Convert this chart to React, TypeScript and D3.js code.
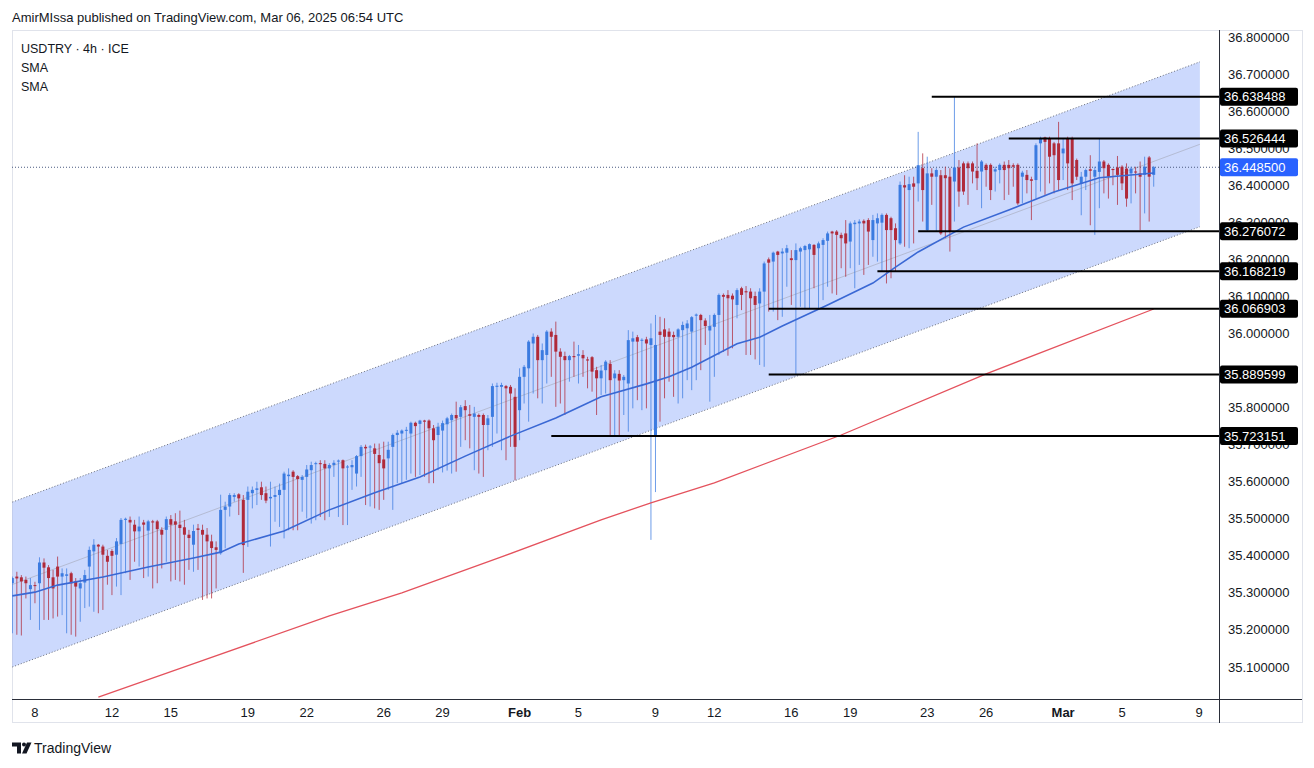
import React from "react";
import * as d3 from "d3";

// ---------- data (USDTRY 4h) ----------
const OPEN = [35.326,35.344,35.342,35.335,35.310,35.321,35.326,35.382,35.369,35.342,35.371,35.344,35.346,35.353,35.331,35.312,35.328,35.371,35.412,35.430,35.425,35.400,35.413,35.403,35.432,35.497,35.497,35.484,35.466,35.490,35.468,35.493,35.493,35.470,35.470,35.499,35.493,35.484,35.477,35.457,35.430,35.474,35.470,35.457,35.439,35.423,35.407,35.524,35.533,35.559,35.566,35.551,35.551,35.569,35.578,35.585,35.569,35.555,35.559,35.564,35.578,35.615,35.627,35.615,35.605,35.613,35.631,35.648,35.650,35.648,35.636,35.645,35.655,35.658,35.639,35.639,35.622,35.669,35.694,35.693,35.690,35.672,35.660,35.663,35.694,35.726,35.730,35.738,35.730,35.759,35.756,35.765,35.765,35.744,35.726,35.738,35.755,35.766,35.780,35.775,35.804,35.782,35.775,35.780,35.780,35.753,35.775,35.856,35.856,35.858,35.856,35.829,35.793,35.883,35.906,35.973,35.991,35.928,35.942,36.005,35.996,35.951,35.939,35.928,35.939,35.940,35.942,35.930,35.936,35.901,35.879,35.901,35.918,35.879,35.891,35.874,35.865,35.978,35.990,35.981,35.984,35.969,35.721,36.005,36.011,36.005,35.996,35.991,36.009,36.014,36.005,36.048,36.050,36.035,36.008,36.018,36.050,36.104,36.104,36.102,36.077,36.122,36.114,36.113,36.101,36.081,36.113,36.200,36.194,36.221,36.216,36.218,36.203,36.198,36.221,36.225,36.227,36.239,36.230,36.239,36.250,36.275,36.275,36.266,36.270,36.248,36.295,36.297,36.304,36.306,36.252,36.297,36.299,36.320,36.311,36.284,36.243,36.400,36.387,36.405,36.405,36.446,36.279,36.432,36.423,36.427,36.427,36.423,36.410,36.448,36.459,36.459,36.459,36.439,36.437,36.455,36.455,36.437,36.441,36.455,36.455,36.454,36.455,36.423,36.428,36.416,36.414,36.513,36.529,36.526,36.513,36.513,36.486,36.526,36.526,36.468,36.405,36.423,36.443,36.423,36.436,36.464,36.455,36.444,36.448,36.450,36.445,36.432,36.437,36.432,36.428,36.475,36.428];
const HIGH = [35.344,35.357,35.348,35.344,35.340,35.330,35.396,35.393,35.375,35.362,35.398,35.366,35.366,35.357,35.340,35.340,35.362,35.425,35.445,35.432,35.430,35.416,35.418,35.448,35.502,35.503,35.506,35.497,35.506,35.497,35.497,35.497,35.497,35.477,35.506,35.510,35.515,35.522,35.497,35.470,35.484,35.486,35.484,35.475,35.457,35.439,35.565,35.546,35.569,35.569,35.569,35.564,35.587,35.587,35.600,35.600,35.587,35.600,35.587,35.595,35.627,35.636,35.631,35.618,35.618,35.645,35.654,35.654,35.658,35.658,35.650,35.658,35.660,35.660,35.645,35.658,35.672,35.699,35.700,35.699,35.703,35.703,35.708,35.708,35.730,35.739,35.741,35.748,35.762,35.762,35.767,35.767,35.768,35.753,35.759,35.765,35.775,35.784,35.816,35.807,35.820,35.807,35.802,35.784,35.784,35.780,35.865,35.867,35.867,35.861,35.861,35.852,35.906,35.915,35.982,36.000,35.996,35.973,36.009,36.014,36.032,35.960,35.951,35.942,35.978,35.969,35.955,35.937,35.939,35.910,35.915,35.928,35.928,35.901,35.901,35.888,36.009,36.005,35.996,35.987,35.991,36.027,36.050,36.045,36.041,36.014,36.005,36.014,36.032,36.036,36.047,36.054,36.053,36.041,36.050,36.054,36.108,36.108,36.117,36.108,36.122,36.126,36.128,36.122,36.113,36.122,36.194,36.205,36.221,36.223,36.230,36.239,36.225,36.243,36.234,36.239,36.243,36.241,36.248,36.257,36.275,36.277,36.279,36.272,36.306,36.302,36.306,36.308,36.308,36.311,36.320,36.324,36.324,36.324,36.315,36.297,36.410,36.427,36.423,36.423,36.544,36.486,36.477,36.446,36.446,36.441,36.450,36.446,36.639,36.468,36.464,36.464,36.464,36.513,36.468,36.459,36.459,36.450,36.459,36.464,36.468,36.459,36.459,36.439,36.441,36.423,36.513,36.531,36.531,36.531,36.517,36.571,36.526,36.531,36.531,36.472,36.436,36.445,36.481,36.450,36.526,36.468,36.459,36.445,36.479,36.454,36.459,36.450,36.450,36.464,36.477,36.479,36.452];
const LOW = [35.191,35.187,35.185,35.285,35.227,35.272,35.200,35.227,35.227,35.231,35.236,35.240,35.191,35.187,35.182,35.222,35.259,35.263,35.249,35.245,35.254,35.322,35.294,35.317,35.294,35.353,35.335,35.384,35.371,35.340,35.344,35.312,35.326,35.366,35.384,35.331,35.335,35.331,35.322,35.362,35.357,35.362,35.281,35.285,35.285,35.312,35.403,35.420,35.506,35.546,35.510,35.354,35.424,35.528,35.537,35.551,35.542,35.425,35.492,35.478,35.447,35.469,35.469,35.469,35.519,35.501,35.487,35.496,35.505,35.496,35.505,35.613,35.505,35.483,35.483,35.578,35.587,35.613,35.537,35.533,35.528,35.524,35.551,35.578,35.524,35.596,35.596,35.605,35.622,35.613,35.618,35.613,35.596,35.596,35.631,35.625,35.630,35.622,35.627,35.694,35.712,35.690,35.631,35.622,35.613,35.685,35.694,35.730,35.685,35.658,35.694,35.604,35.712,35.811,35.762,35.838,35.825,35.811,35.865,35.883,35.802,35.811,35.780,35.870,35.883,35.865,35.883,35.852,35.843,35.780,35.834,35.838,35.721,35.721,35.726,35.780,35.735,35.798,35.820,35.793,35.798,35.443,35.572,35.762,35.825,35.870,35.829,35.811,35.825,35.874,35.847,35.874,35.901,35.969,35.816,35.883,35.942,35.950,35.940,35.960,36.041,36.063,35.942,35.942,35.930,35.915,35.910,36.059,36.059,36.036,36.045,36.126,36.077,35.890,36.072,36.068,36.068,36.122,36.067,36.090,36.126,36.108,36.104,36.176,36.153,36.176,36.122,36.185,36.158,36.185,36.207,36.194,36.167,36.135,36.149,36.167,36.239,36.234,36.230,36.243,36.356,36.302,36.275,36.347,36.275,36.266,36.257,36.221,36.302,36.342,36.374,36.347,36.405,36.387,36.338,36.396,36.360,36.383,36.405,36.360,36.374,36.396,36.347,36.351,36.378,36.306,36.364,36.383,36.374,36.405,36.378,36.387,36.414,36.387,36.360,36.414,36.319,36.387,36.292,36.266,36.338,36.378,36.364,36.400,36.347,36.387,36.342,36.351,36.378,36.279,36.324,36.302,36.396];
const CLOSE = [35.340,35.339,35.331,35.326,35.321,35.320,35.382,35.368,35.340,35.312,35.344,35.353,35.350,35.326,35.317,35.326,35.348,35.416,35.430,35.425,35.403,35.384,35.400,35.439,35.497,35.500,35.490,35.466,35.479,35.484,35.493,35.490,35.472,35.457,35.499,35.484,35.484,35.475,35.457,35.448,35.467,35.470,35.457,35.439,35.421,35.416,35.524,35.533,35.564,35.564,35.555,35.429,35.573,35.578,35.582,35.564,35.549,35.559,35.564,35.578,35.622,35.619,35.613,35.607,35.613,35.633,35.645,35.650,35.648,35.636,35.645,35.651,35.657,35.636,35.641,35.645,35.669,35.694,35.690,35.695,35.675,35.650,35.636,35.686,35.726,35.732,35.738,35.740,35.759,35.750,35.765,35.762,35.744,35.712,35.748,35.758,35.771,35.780,35.771,35.801,35.793,35.778,35.784,35.775,35.753,35.771,35.858,35.859,35.861,35.852,35.838,35.694,35.883,35.910,35.978,35.991,35.928,35.955,36.005,35.991,35.951,35.937,35.928,35.939,35.936,35.944,35.933,35.927,35.897,35.879,35.900,35.924,35.874,35.892,35.873,35.883,35.982,35.987,35.978,35.983,35.973,35.987,35.969,35.996,35.991,35.991,35.990,36.011,36.023,36.027,36.044,36.051,36.036,36.020,36.020,36.050,36.104,36.099,36.095,36.092,36.117,36.104,36.111,36.095,36.077,36.113,36.189,36.191,36.218,36.212,36.221,36.230,36.198,36.225,36.230,36.236,36.241,36.212,36.243,36.252,36.270,36.270,36.266,36.257,36.243,36.297,36.299,36.302,36.297,36.275,36.306,36.311,36.320,36.279,36.279,36.252,36.401,36.394,36.403,36.396,36.454,36.387,36.432,36.423,36.441,36.270,36.419,36.275,36.448,36.383,36.383,36.446,36.437,36.419,36.464,36.441,36.387,36.443,36.455,36.441,36.446,36.450,36.351,36.434,36.414,36.412,36.508,36.526,36.517,36.477,36.481,36.414,36.499,36.459,36.405,36.423,36.423,36.441,36.439,36.441,36.464,36.446,36.423,36.441,36.428,36.405,36.364,36.445,36.435,36.423,36.450,36.423,36.4485];

// moving averages, read at sample candle indices
const SMA_FAST_IDX = [0,5,10,20,30,40,46,50,60,70,80,90,100,110,120,130,140,145,150,160,165,170,180,190,195,200,210,220,230,240,252];
const SMA_FAST_VAL = [35.292,35.302,35.321,35.343,35.370,35.394,35.410,35.432,35.467,35.524,35.570,35.613,35.669,35.723,35.772,35.829,35.864,35.883,35.909,35.972,35.990,36.020,36.077,36.136,36.179,36.220,36.287,36.333,36.382,36.420,36.433];
const SMA_SLOW_IDX = [19,41,70,86,108,130,141,155,183,215,252];
const SMA_SLOW_VAL = [35.019,35.113,35.238,35.300,35.397,35.497,35.543,35.597,35.726,35.891,36.066];

// parallel channel (index, price) end points
const CHANNEL_IDX = [0, 262.2];
const CHANNEL_UPPER = [35.545, 36.733];
const CHANNEL_LOWER = [35.100, 36.288];

// horizontal levels
const LEVEL_VALUES = [36.638488, 36.526444, 36.276072, 36.168219, 36.066903, 35.889599, 35.723151];
const LEVEL_START_IDX = [203, 220, 200, 191, 167, 167, 119];
const LAST_PRICE = 36.4485;

// axes (35.9 is hidden behind the 35.889599 label in the reference)
const X_TICK_IDX = [5,22,35,52,65,82,95,112,125,142,155,172,185,202,215,232,245,262];
const X_TICK_LABELS = ["8","12","15","19","22","26","29","Feb","5","9","12","16","19","23","26","Mar","5","9"];
const Y_TICKS = [35.1,35.2,35.3,35.4,35.5,35.6,35.7,35.8,36.0,36.1,36.2,36.3,36.4,36.5,36.6,36.7,36.8];

const FONT = "'Liberation Sans', Arial, sans-serif";
const TXT = "#131722";
const UP = "#3b7be0";
const DOWN = "#b02a3a";

export default function App() {
  const W = 1314, H = 768;
  const plotL = 12, plotR = 1219, plotT = 30, plotB = 699;
  const x = d3.scaleLinear().domain([0, 262]).range([12.3, 1199]);
  const y = d3.scaleLinear().domain([35.1, 36.8]).range([667, 37]);

  const lineGen = d3.line<[number, number]>().x(d => x(d[0])).y(d => y(d[1]));
  const fast = lineGen(SMA_FAST_IDX.map((v, i) => [v, SMA_FAST_VAL[i]]));
  const slow = lineGen(SMA_SLOW_IDX.map((v, i) => [v, SMA_SLOW_VAL[i]]));
  const upper: [number, number][] = CHANNEL_IDX.map((v, i) => [v, CHANNEL_UPPER[i]]);
  const lower: [number, number][] = CHANNEL_IDX.map((v, i) => [v, CHANNEL_LOWER[i]]);
  const mid: [number, number][] = CHANNEL_IDX.map((v, i) => [v, (CHANNEL_UPPER[i] + CHANNEL_LOWER[i]) / 2]);
  const fillPts = [...upper, ...lower.slice().reverse()].map(p => `${x(p[0])},${y(p[1])}`).join(" ");

  const bodyW = 3;

  return (
    <svg width={W} height={H} style={{ position: "absolute", left: 0, top: 0, background: "#fff" }} fontFamily={FONT}>
      <defs>
        <clipPath id="plot"><rect x={plotL} y={plotT} width={plotR - plotL} height={plotB - plotT} /></clipPath>
      </defs>
      <rect x={0} y={0} width={W} height={H} fill="#fff" />
      <text x={12} y={22} fontSize={13} fill={TXT}>AmirMIssa published on TradingView.com, Mar 06, 2025 06:54 UTC</text>
      {/* frame */}
      <rect x={12.5} y={30.5} width={1290} height={692} fill="none" stroke="#e0e3eb" />

      <g clipPath="url(#plot)">
        {/* channel */}
        <polygon points={fillPts} fill="rgba(40,95,245,0.24)" />
        <path d={lineGen(upper) || ""} stroke="#6b6f7a" strokeWidth={1} strokeDasharray="1 2" fill="none" />
        <path d={lineGen(lower) || ""} stroke="#6b6f7a" strokeWidth={1} strokeDasharray="1 2" fill="none" />
        <path d={lineGen(mid) || ""} stroke="rgba(150,150,160,0.45)" strokeWidth={1} fill="none" />

        {/* last price dotted line */}
        <line x1={plotL} x2={plotR} y1={y(LAST_PRICE)} y2={y(LAST_PRICE)} stroke="#4a5a80" strokeWidth={1} strokeDasharray="1 2" />

        {/* candles */}
        {OPEN.map((o, i) => {
          const c = CLOSE[i];
          const up = c >= o;
          const col = up ? UP : DOWN;
          const cx = x(i);
          const top = y(Math.max(o, c));
          const bot = y(Math.min(o, c));
          return (
            <g key={i}>
              <line x1={cx} x2={cx} y1={y(HIGH[i])} y2={y(LOW[i])} stroke={col} strokeOpacity={0.75} strokeWidth={1} />
              <rect x={cx - bodyW / 2} y={top} width={bodyW} height={Math.max(1, bot - top)} fill={col} />
            </g>
          );
        })}

        {/* SMAs */}
        <path d={slow || ""} stroke="#e4525d" strokeWidth={1.3} fill="none" />
        <path d={fast || ""} stroke="#3a68d4" strokeWidth={1.6} fill="none" />

        {/* horizontal levels */}
        {LEVEL_VALUES.map((v, i) => (
          <line key={i} x1={x(LEVEL_START_IDX[i])} x2={plotR} y1={y(v)} y2={y(v)} stroke="#000" strokeWidth={2} />
        ))}
      </g>

      {/* axes lines */}
      <line x1={plotR + 0.5} x2={plotR + 0.5} y1={plotT} y2={723} stroke="#2a2e39" strokeWidth={1} />
      <line x1={plotL} x2={1302} y1={plotB + 0.5} y2={plotB + 0.5} stroke="#2a2e39" strokeWidth={1} />

      {/* y ticks */}
      {Y_TICKS.map(t => (
        <text key={t} x={1228} y={y(t) + 4.5} fontSize={13} fill={TXT}>{t.toFixed(6)}</text>
      ))}

      {/* level labels */}
      {LEVEL_VALUES.map((v, i) => (
        <g key={i}>
          <rect x={1220} y={y(v) - 9} width={78} height={18} rx={2} fill="#000" />
          <text x={1224} y={y(v) + 4.5} fontSize={13} fill="#fff">{v.toFixed(6)}</text>
        </g>
      ))}
      <rect x={1220} y={y(LAST_PRICE) - 9} width={78} height={18} rx={2} fill="#2962ff" />
      <text x={1224} y={y(LAST_PRICE) + 4.5} fontSize={13} fill="#fff">{LAST_PRICE.toFixed(6)}</text>

      {/* x ticks */}
      {X_TICK_IDX.map((t, i) => (
        <text key={i} x={x(t)} y={717} fontSize={13} fill={TXT} textAnchor="middle"
          fontWeight={X_TICK_LABELS[i] === "Feb" || X_TICK_LABELS[i] === "Mar" ? "bold" : "normal"}>{X_TICK_LABELS[i]}</text>
      ))}

      {/* legend */}
      <text x={21} y={53} fontSize={12.5} fill={TXT}>USDTRY · 4h · ICE</text>
      <text x={21} y={72} fontSize={12.5} fill={TXT}>SMA</text>
      <text x={21} y={91} fontSize={12.5} fill={TXT}>SMA</text>

      {/* TradingView logo */}
      <g fill={TXT}>
        <path d="M12,742.5 h9 v11 h-4 v-7 h-5 z" />
        <circle cx={24} cy={744.5} r={2} />
        <path d="M27,742.5 h4.5 l-5,11 h-4.5 z" />
      </g>
      <text x={34} y={753} fontSize={14} fill={TXT}>TradingView</text>
    </svg>
  );
}
